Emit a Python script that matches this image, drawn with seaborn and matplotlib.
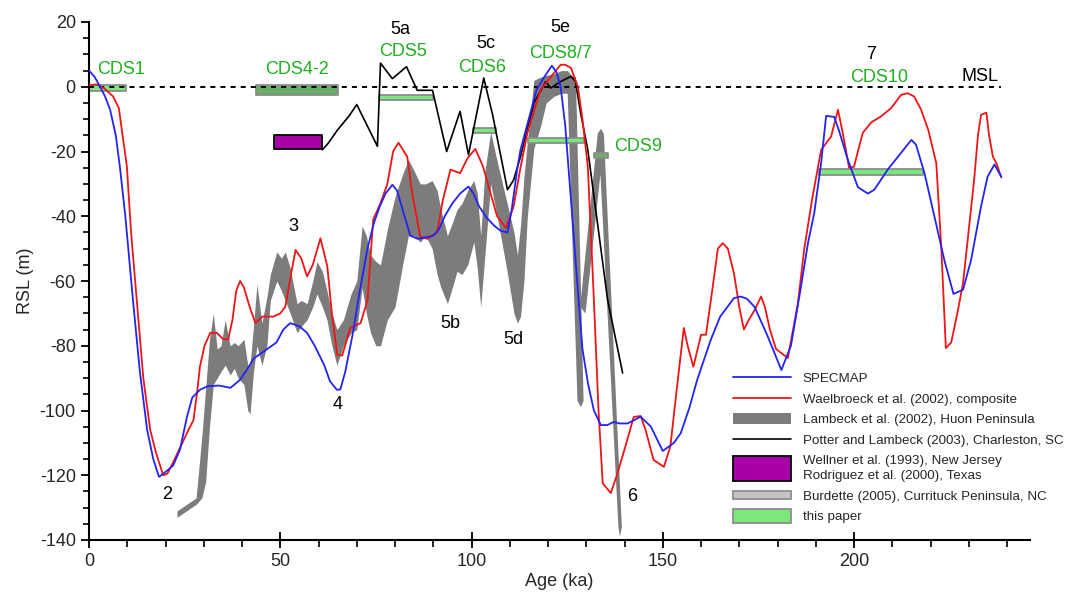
import matplotlib
matplotlib.use("Agg")
import numpy as np
import pandas as pd
import seaborn as sns
import matplotlib.pyplot as plt
import matplotlib.patches as mpatches
from matplotlib.lines import Line2D
from matplotlib.legend_handler import HandlerPatch
from matplotlib.ticker import MultipleLocator

# ---------------- data ----------------
spec_x = [0, 1.5, 2.9, 4.2, 5.5, 7, 8.1, 9.5, 11.5, 13.3, 15.2, 16.8, 18.3, 20, 22, 23.8, 25.6, 27, 29, 31, 34, 37,
          39.5, 41.5, 43, 46, 49, 50.8, 52.6, 55, 57, 59, 61.5, 63, 64.8, 65.7, 67, 69, 70.8, 72.8, 74.5, 76, 77.5,
          79.3, 80.5, 82, 84, 86, 88, 90, 91.5, 93, 95, 97, 99.2, 100.5, 102, 104, 106, 107.6, 109.4, 110.5, 112,
          112.8, 114.5, 117, 119, 121, 122.2, 123.3, 124.5, 126, 128, 129, 130.5, 132, 133.8, 135.5, 137.2, 138.6,
          140.8, 142.5, 144.2, 146.9, 150, 152.9, 154.7, 157, 159, 162.6, 165, 168.6, 170.4, 172, 174, 177.4, 181,
          183.5, 186, 188, 189.6, 191.4, 192.7, 194.8, 196, 198.4, 201, 203.6, 205.3, 208.8, 212.3, 215, 216.2,
          218.4, 221, 223.6, 226, 228.5, 230.6, 233.2, 234.9, 236.7, 238.5]
spec_y = [5, 3, 0, -3, -7, -15, -25, -40, -66, -88, -106, -115, -120.5, -119, -117, -112, -102, -96, -93.6, -92.5,
          -92.3, -93, -90.5, -87, -84, -81.5, -79, -75, -73, -74, -76, -80, -86, -91, -93.6, -93.5, -88, -76, -63,
          -50, -42, -37, -33, -30.3, -32, -38, -46, -47, -46.5, -46, -44, -40, -36, -33, -30.8, -33, -37, -40.5,
          -43, -44.5, -45, -38, -25, -19.5, -12, -1, 3, 6.5, 4.5, 0, -12, -35, -66, -81, -92, -100, -104.5, -104.5,
          -103.5, -104, -104, -103, -101.9, -105, -112.5, -110, -107, -99, -90.5, -78, -71, -65.3, -64.8, -65.5,
          -68, -77, -87.5, -80, -62.7, -48, -39, -23.5, -9, -9.3, -13.3, -22.6, -31, -33, -31.8, -25.6, -20.4,
          -16.4, -17.9, -26.6, -40, -53.5, -64, -62.7, -53.5, -37, -27.8, -24, -27.8]

wael_x = [0, 2, 4, 6.3, 7.8, 9.9, 11, 12.5, 14.2, 16, 17.5, 19.4, 20.5, 22, 24, 26, 27.3, 28.2, 29, 30.2, 31.7,
          33.4, 35.1, 36.4, 37.5, 38.5, 39.5, 40.5, 42, 43.5, 45.3, 48.2, 50, 51.3, 52.5, 54, 55.5, 57, 58.5, 60.5,
          62.3, 63.5, 64.9, 66.2, 68.3, 71, 72.8, 74.3, 76.2, 78, 79.5, 80.9, 83.2, 84.5, 86.6, 88.4, 91, 92.5,
          94.5, 97, 99, 101, 103, 105, 106.7, 109, 111, 112.8, 114.6, 118, 121.5, 123.3, 124.5, 126, 127.8, 129,
          130.4, 132, 133.2, 134.3, 136.4, 138, 139, 140.5, 142.4, 144.2, 145.5, 147.6, 150.3, 152, 153.5, 155.5,
          156.5, 158, 160, 161.3, 162.8, 164.4, 165.7, 167, 168.6, 170, 171.2, 172.5, 174, 175.7, 176.7, 178,
          179.6, 182.7, 185.3, 187, 189, 191.4, 194, 195.8, 197, 198.7, 200, 201, 202.3, 204.5, 207, 209.7, 212.3,
          214, 215.7, 217.5, 219.4, 221.5, 222.8, 224, 225.4, 227, 228.5, 230, 231.4, 232.4, 233.2, 234.6, 235.3,
          236.3, 237.2, 238.5]
wael_y = [0.5, 0.7, -0.5, -3, -6.6, -24.6, -45, -66, -90, -106, -113, -120, -119.5, -116, -111, -106, -103, -95,
          -86.5, -80, -76, -76, -78, -78, -72, -63, -60, -62, -68, -73, -71, -71, -70, -68, -60, -50.4, -53, -58.6,
          -55, -46.8, -55.5, -70, -82.8, -83, -74.5, -73, -66, -41, -36, -30, -20, -17.3, -21.6, -33, -46.3, -47,
          -45, -35, -25.6, -26.7, -22, -19.2, -24.6, -33, -40, -43.6, -37, -25, -14.3, -1, 4.2, 6.8, 6.8, 5.8, 0,
          -10, -24.6, -66, -100, -122.5, -125.5, -120, -116, -110, -102, -101.7, -106, -115.3, -117.4, -111, -95,
          -74.5, -80, -86.5, -76.6, -76.6, -64, -50, -48.3, -50, -57.6, -68, -75, -72, -69, -64.8, -68, -75, -81,
          -83.8, -67, -50, -35, -19.5, -15.4, -7.1, -14, -25, -24.7, -20, -14.2, -11, -9.2, -6.6, -2.5, -2, -3, -7,
          -13.3, -23.6, -49.4, -80.7, -79, -70, -60.6, -44, -28.7, -15, -8.7, -8, -15, -21.6, -23.6, -28]

potter_x = [61, 62.5, 65, 68, 70, 75.4, 76.2, 79.3, 83, 85.8, 89.8, 93.5, 97, 99.2, 103.2, 105.5, 109.4, 111,
            112.8, 116.3, 119.4, 120.7, 123.3, 126, 127.2, 128.5, 130.4, 135.6, 139.5]
potter_y = [-19.5, -17.5, -13.3, -9, -5.5, -18.4, 7.3, 2.5, 6.2, -1.1, -1.1, -20, -7.6, -21, 2.7, -8.6, -31.8, -28.8,
            -21.6, -5, 1.6, -0.4, 1.6, 3.2, 1.6, -8, -19.5, -66, -88.4]

# Lambeck et al. (2002) Huon Peninsula band (main part)
band_x = [23.0, 25.5, 28.0, 29.5, 30.5, 31.5, 32.5, 33.5, 34.5, 35.6, 36.9, 38.0, 39.0, 40.5, 41.5, 42.1, 43.0,
          43.9, 45.2, 46.5, 47.4, 49.1, 50.3, 51.3, 52.6, 54.4, 55.5, 57.0, 58.5, 59.6, 61.0, 62.2, 63.5, 64.8,
          66.5, 68.5, 70.0, 71.4, 72.5, 73.6, 75.0, 76.2, 78.0, 80.0, 82.0, 83.5, 85.0, 86.6, 88.0, 89.7, 91.0,
          92.0, 93.7, 95.0, 96.2, 97.5, 99.0, 100.6, 101.5, 102.4, 103.5, 105.0, 106.7, 109.3, 111.1, 112.0,
          112.8, 113.7, 114.6, 116.3, 118.1, 119.5, 121.5, 123.5, 125.0, 126.5]
band_top = [-131, -129, -127, -108, -93, -78, -70, -81, -80, -72, -80, -79, -80, -78, -86, -86, -74, -61, -73,
            -65, -58, -51, -53, -51, -56, -67, -66, -67, -60, -54, -57, -63, -70, -75, -72, -64, -60, -43, -46,
            -52, -54, -55, -44, -34, -27, -22.5, -26, -30, -30, -29, -32, -38, -46, -42, -38, -36, -32, -29, -33,
            -46, -26, -14, -23, -36, -45, -52, -43, -28, -17, 2, 3, 3.5, 4, 5, 5, 3]
band_bot = [-133, -131, -129, -127, -122, -105, -92, -90, -88, -86, -89, -87, -90, -92, -100, -101, -88, -80,
            -86, -80, -66, -60, -63, -66, -70, -76, -74, -72, -68, -64, -68, -72, -80, -86, -80, -76, -75, -62,
            -70, -76, -80, -80, -72, -68, -55, -46, -46, -48, -46, -50, -58, -62, -67, -62, -57, -58, -55, -48,
            -56, -68, -52, -30, -40, -57, -70, -73, -71, -60, -40, -19, -12, -5, -3, -2, -2, -4]
# descending branches of the Lambeck band (outline vertices)
branch1_x = [125.0, 127.3, 129.3, 128.6, 127.7]
branch1_y = [3, 3, -97, -99, -97]
branch2_x = [128.4, 133.0, 133.8, 134.6, 139.3, 138.8, 138.4, 133.7, 129.8]
branch2_y = [-68, -14.5, -13, -14.5, -136, -139, -136, -27, -70]

# Wellner / Rodriguez box
purple_x = [48.4, 61.0]
purple_lo, purple_hi = -19.2, -14.8

# this paper (CDS boxes)
cds_x0 = [0.0, 43.7, 75.7, 100.5, 114.7, 132.0, 190.8]
cds_x1 = [9.7, 65.0, 90.0, 106.3, 129.3, 135.6, 218.0]
cds_lo = [-1.2, -2.5, -4.0, -14.3, -17.4, -22.0, -27.2]
cds_hi = [0.6, 0.6, -2.5, -12.7, -15.8, -20.5, -25.4]
cds_dark = [False, True, False, False, False, True, False]

msl_x = [0, 238.5]
msl_y = [0, 0]

black_labels = ["2", "3", "4", "5a", "5b", "5c", "5d", "5e", "6", "7", "MSL"]
black_lab_x = [20.4, 53.4, 64.9, 81.4, 94.5, 103.7, 111.0, 123.3, 142.0, 204.5, 233.0]
black_lab_y = [-126, -43.2, -98.3, 17.6, -73, 13.5, -78, 18.4, -126.7, 9.9, 3.2]
green_labels = ["CDS1", "CDS4-2", "CDS5", "CDS6", "CDS8/7", "CDS9", "CDS10"]
green_lab_x = [8.5, 54.4, 82.2, 102.9, 123.3, 143.5, 206.5]
green_lab_y = [5.3, 5.3, 10.8, 5.8, 10.4, -18.5, 2.8]

x_ticks = [0, 50, 100, 150, 200]
y_ticks = [20, 0, -20, -40, -60, -80, -100, -120, -140]

legend_labels = ["SPECMAP", "Waelbroeck et al. (2002), composite", "Lambeck et al. (2002), Huon Peninsula",
                 "Potter and Lambeck (2003), Charleston, SC",
                 "Wellner et al. (1993), New Jersey\nRodriguez et al. (2000), Texas",
                 "Burdette (2005), Currituck Peninsula, NC", "this paper"]

# ---------------- style ----------------
sns.set_theme(style="ticks")
plt.rcParams['font.family'] = ['Liberation Sans', 'DejaVu Sans']
plt.rcParams['axes.unicode_minus'] = False

BLUE = "#2323f5"
RED = "#f01414"
GRAY = "#7c7c7c"
PURPLE = "#a600a6"
GREEN = "#7ae87a"
DKGREEN = "#6aae6a"
EDGE = "#8c8c8c"
TXTGREEN = "#1fb01f"

fig = plt.figure(figsize=(10.7, 6.01), dpi=100)
ax = fig.add_axes([89 / 1070, 61 / 601, 941 / 1070, 518 / 601])

# band
ax.fill_between(band_x, band_bot, band_top, color=GRAY, lw=0, zorder=1)
ax.fill(branch1_x, branch1_y, color=GRAY, lw=0, zorder=1)
ax.fill(branch2_x, branch2_y, color=GRAY, lw=0, zorder=1)

# boxes
for x0, x1, lo, hi, dk in zip(cds_x0, cds_x1, cds_lo, cds_hi, cds_dark):
    ax.fill_between([x0, x1], [lo, lo], [hi, hi], facecolor=DKGREEN if dk else GREEN,
                    edgecolor=EDGE, lw=1.3, zorder=2)
ax.fill_between(purple_x, [purple_lo] * 2, [purple_hi] * 2, facecolor=PURPLE, edgecolor="black",
                lw=1.3, zorder=2)

# MSL
ax.plot(msl_x, msl_y, color="black", lw=1.4, ls=(0, (2.6, 2.6)), zorder=3)

# lines
sns.lineplot(x=potter_x, y=potter_y, ax=ax, color="black", lw=1.2, sort=False, estimator=None, zorder=4)
sns.lineplot(x=wael_x, y=wael_y, ax=ax, color=RED, lw=1.3, sort=False, estimator=None, zorder=5)
sns.lineplot(x=spec_x, y=spec_y, ax=ax, color=BLUE, lw=1.3, sort=False, estimator=None, zorder=6)

# labels
for t, x, y in zip(black_labels, black_lab_x, black_lab_y):
    ax.text(x, y, t, ha="center", va="center", fontsize=13, color="black", zorder=7)
for t, x, y in zip(green_labels, green_lab_x, green_lab_y):
    ax.text(x, y, t, ha="center", va="center", fontsize=13, color=TXTGREEN, zorder=7)

# axes
ax.set_xlim(0, 246)
ax.set_ylim(-140, 20)
ax.set_xticks(x_ticks)
ax.set_yticks(y_ticks)
ax.xaxis.set_minor_locator(MultipleLocator(10))
ax.yaxis.set_minor_locator(MultipleLocator(5))
ax.tick_params(axis="x", which="major", direction="inout", length=12, width=1.3, labelsize=13, color="black")
ax.tick_params(axis="x", which="minor", direction="out", length=5, width=1.2, color="black")
ax.tick_params(axis="y", which="major", direction="out", length=6, width=1.3, labelsize=13, color="black")
ax.tick_params(axis="y", which="minor", direction="out", length=4, width=1.2, color="black")
for s in ["top", "right"]:
    ax.spines[s].set_visible(False)
for s in ["left", "bottom"]:
    ax.spines[s].set_linewidth(1.5)
    ax.spines[s].set_color("black")
ax.set_xlabel("Age (ka)", fontsize=13, labelpad=2)
ax.set_ylabel("RSL (m)", fontsize=13, labelpad=4)
ax.set_facecolor("white")
ax.grid(False)


def tall(scale):
    def f(legend, orig_handle, xdescent, ydescent, width, height, fontsize):
        h = height * scale
        return mpatches.Rectangle((-xdescent, -ydescent + (height - h) / 2), width, h)
    return HandlerPatch(patch_func=f)


h_spec = Line2D([], [], color=BLUE, lw=1.3)
h_wael = Line2D([], [], color=RED, lw=1.3)
h_lamb = mpatches.Patch(facecolor=GRAY, edgecolor=GRAY, lw=0)
h_pott = Line2D([], [], color="black", lw=1.2)
h_purp = mpatches.Patch(facecolor=PURPLE, edgecolor="black", lw=1.3)
h_burd = mpatches.Patch(facecolor="#c4c4c4", edgecolor=EDGE, lw=1.3)
h_this = mpatches.Patch(facecolor=GREEN, edgecolor=EDGE, lw=1.3)
leg = ax.legend([h_spec, h_wael, h_lamb, h_pott, h_purp, h_burd, h_this], legend_labels,
                loc="upper left", bbox_to_anchor=(0.684, 0.323), frameon=False, fontsize=9.6,
                handlelength=4.4, handletextpad=0.85, labelspacing=0.62, borderpad=0, borderaxespad=0,
                handler_map={h_lamb: tall(1.1), h_purp: tall(2.6), h_burd: tall(0.9), h_this: tall(1.45)})
leg.get_texts()[4].set_linespacing(1.35)

fig.savefig("out.png", dpi=100, facecolor="white")
